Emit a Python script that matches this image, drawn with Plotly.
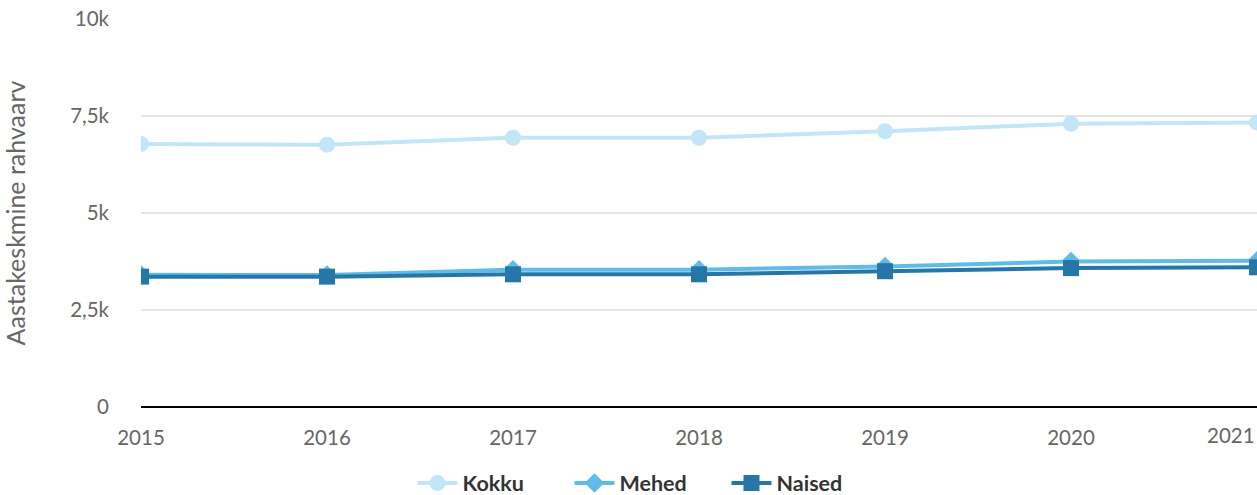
import plotly.graph_objects as go

years = [2015, 2016, 2017, 2018, 2019, 2020, 2021]
kokku = [6780, 6760, 6940, 6940, 7110, 7300, 7330]
mehed = [3410, 3400, 3540, 3540, 3620, 3750, 3770]
naised = [3360, 3360, 3420, 3420, 3500, 3580, 3600]
y_ticks = [0, 2500, 5000, 7500, 10000]
y_labels = ["0", "2,5k", "5k", "7,5k", "10k"]

series = [
    ("Kokku", kokku, "#c2e6f7", "circle", 16),
    ("Mehed", mehed, "#5fbce9", "diamond", 15),
    ("Naised", naised, "#2677a7", "square", 16),
]

fig = go.Figure()
for name, vals, color, sym, size in series:
    fig.add_trace(go.Scatter(
        x=years, y=vals, name=name, mode="lines+markers",
        line=dict(color=color, width=4),
        marker=dict(symbol=sym, size=size, color=color),
    ))

tick_font = dict(family="Lato", size=20.5, color="#666666")

fig.update_layout(
    width=1257, height=495,
    margin=dict(l=141, r=0, t=19, b=88, autoexpand=False),
    plot_bgcolor="white", paper_bgcolor="white",
    showlegend=True,
    legend=dict(orientation="h", xref="container", yref="container",
                x=0.5155, xanchor="center", y=0.024, yanchor="middle",
                font=dict(family="Lato", size=21.5, color="#333333", weight="bold"),
                itemwidth=40, entrywidth=102, tracegroupgap=0),
    xaxis=dict(range=[2015, 2021], tickvals=years[:-1], ticktext=[str(y) for y in years[:-1]],
               showgrid=False, zeroline=False, showline=False, tickfont=tick_font,
               ticks="", ticklabelstandoff=16, automargin=False),
    yaxis=dict(range=[0, 10000], tickvals=y_ticks, ticktext=y_labels,
               gridcolor="#e6e6e6", gridwidth=2, zeroline=True, zerolinecolor="#000000",
               zerolinewidth=2, tickfont=tick_font, ticks="", ticklabelstandoff=31,
               automargin=False,
               title=dict(text="Aastakeskmine rahvaarv", font=dict(family="Lato", size=25, color="#666666"),
                          standoff=37)),
)
fig.add_annotation(x=years[-1], y=0, xref="x", yref="y", text=str(years[-1]), showarrow=False,
                   xanchor="right", yanchor="top", yshift=-14, font=tick_font)

fig.write_html("out.html", post_script="document.body.style.margin='0';",
               config={"displayModeBar": False})
